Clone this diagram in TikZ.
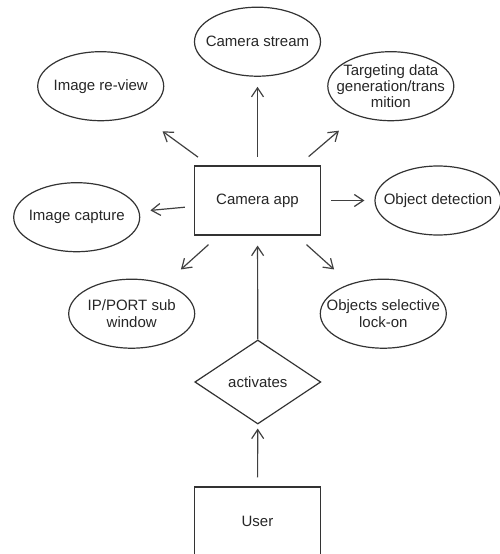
\documentclass[tikz,border=0pt]{standalone}
\usepackage{fontspec}
\setmainfont{Liberation Sans}
\usetikzlibrary{shapes.geometric, arrows.meta}

\begin{document}
\begin{tikzpicture}[x=1pt, y=-1pt,
		every node/.style={font=\fontsize{15}{16.2}\selectfont, text=black!85, align=center},
		bubble/.style={draw=black!80, line width=1.2pt, ellipse, minimum width=126pt, minimum height=69pt, inner xsep=-20pt, inner ysep=-5pt},
		appbox/.style={draw=black!80, line width=1.2pt, rectangle, minimum width=126pt, minimum height=69pt, inner sep=0pt},
		gate/.style={draw=black!80, line width=1.2pt, diamond, minimum width=126pt, minimum height=84pt, inner sep=0pt},
		flow/.style={draw=black!75, line width=1.2pt, -{Straight Barb[length=9pt, width=12pt]}}]
		\useasboundingbox (0,0) rectangle (500,554);
		\clip (0,0) rectangle (500,554);

		\node[appbox] (camapp) at (257.5,200.5) {Camera app};
		\node[bubble] (stream) at (257.5,41.7) {Camera stream};
		\node[bubble] (review) at (100.7,86.2) {Image re-view};
		\node[bubble] (target) at (390.8,86.2) {Targeting data\\generation/trans\\mition};
		\node[bubble] (detect) at (438,200.5) {Object detection};
		\node[bubble] (capture) at (76.7,217.2) {Image capture};
		\node[bubble] (ipport) at (131.7,313.7) {IP/PORT sub\\window};
		\node[bubble] (lockon) at (383.3,313.7) {Objects selective\\lock-on};
		\node[gate] (activ) at (257.8,382) {activates};
		\node[appbox] (user) at (257.5,521.5) {User};

		\draw[flow, shorten <=8.5pt, shorten >=10pt] (camapp) -- (stream);
		\draw[flow, shorten <=14pt, shorten >=29pt] (camapp) -- (review);
		\draw[flow, shorten <=13.5pt, shorten >=23pt] (camapp) -- (target);
		\draw[flow, shorten <=10pt, shorten >=10pt] (camapp) -- (detect);
		\draw[flow, shorten <=9pt, shorten >=11pt] (camapp) -- (capture);
		\draw[flow, shorten <=13.5pt, shorten >=21.5pt] (camapp) -- (ipport);
		\draw[flow, shorten <=13.5pt, shorten >=21.5pt] (camapp) -- (lockon);
		\draw[flow, shorten >=10pt] (activ) -- (camapp);
		\draw[flow, shorten <=9pt, shorten >=4pt] (user) -- (activ);
	\end{tikzpicture}
\end{document}
